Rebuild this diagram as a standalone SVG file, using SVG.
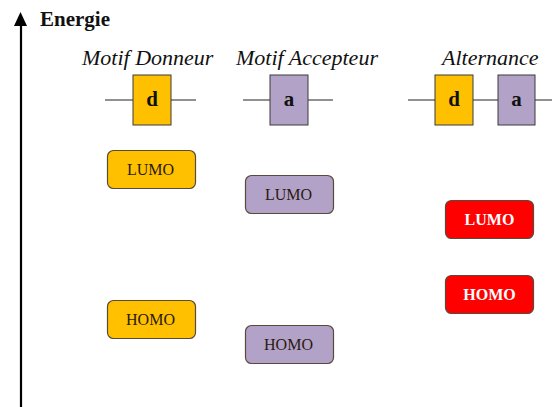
<svg xmlns="http://www.w3.org/2000/svg" width="552" height="407" viewBox="0 0 552 407">
<style>
.t{font-family:"Liberation Serif","Times New Roman",serif}
.h{font-size:22px;font-style:italic;fill:#111}
.m{stroke:#3a3a3a;stroke-width:1}
.lv{stroke:#5a4a3a;stroke-width:1.2}
.lt{font-size:16px;fill:#2a1a10;text-anchor:middle}
.lw{font-size:16px;fill:#fff;font-weight:bold;text-anchor:middle}
.bt{font-size:21px;font-weight:bold;fill:#111;text-anchor:middle}
.w{stroke:#222;stroke-width:1}
</style>
<rect width="552" height="407" fill="#fff"/>
<g id="axis">
<line x1="21" y1="24" x2="21" y2="407" stroke="#000" stroke-width="2.2"/>
<polygon points="20.5,12 14,26 27,26" fill="#000"/>
<text class="t" x="40" y="26" font-size="21" font-weight="bold" fill="#111">Energie</text>
</g>
<g id="connectors">
<line class="w" x1="105" y1="100" x2="133" y2="100"/>
<line class="w" x1="171" y1="100" x2="196" y2="100"/>
<line class="w" x1="243" y1="100" x2="270" y2="100"/>
<line class="w" x1="308" y1="100" x2="333" y2="100"/>
<line class="w" x1="408" y1="100" x2="435" y2="100"/>
<line class="w" x1="473" y1="100" x2="498" y2="100"/>
<line class="w" x1="535" y1="100" x2="552" y2="100"/>
</g>
<g id="motif-donneur">
<text class="t h" x="82" y="65">Motif Donneur</text>
<rect class="m" x="133" y="75" width="38" height="50" fill="#FFC000"/>
<text class="t bt" x="152" y="106">d</text>
</g>
<g id="motif-accepteur">
<text class="t h" x="236" y="65">Motif Accepteur</text>
<rect class="m" x="270" y="75" width="38" height="50" fill="#B3A2C7"/>
<text class="t bt" x="289" y="106">a</text>
</g>
<g id="alternance">
<text class="t h" x="442" y="65">Alternance</text>
<rect class="m" x="435" y="75" width="38" height="50" fill="#FFC000"/>
<text class="t bt" x="454" y="106">d</text>
<rect class="m" x="498" y="75" width="37" height="50" fill="#B3A2C7"/>
<text class="t bt" x="516.5" y="106">a</text>
</g>
<g id="lumo-d">
<rect class="lv" x="107.5" y="150.5" width="88" height="38" rx="6" fill="#FFC000"/>
<text class="t lt" x="150.5" y="174.5">LUMO</text>
</g>
<g id="homo-d">
<rect class="lv" x="107.5" y="300.5" width="88" height="38" rx="6" fill="#FFC000"/>
<text class="t lt" x="150.5" y="324.5">HOMO</text>
</g>
<g id="lumo-a">
<rect class="lv" x="245.5" y="175.5" width="88" height="38" rx="6" fill="#B3A2C7"/>
<text class="t lt" x="288.5" y="199.5">LUMO</text>
</g>
<g id="homo-a">
<rect class="lv" x="245.5" y="325.5" width="88" height="38" rx="6" fill="#B3A2C7"/>
<text class="t lt" x="288.5" y="349.5">HOMO</text>
</g>
<g id="lumo-alt">
<rect class="lv" x="445.5" y="200.5" width="88" height="38" rx="6" fill="#FF0000"/>
<text class="t lw" x="489.5" y="224.5">LUMO</text>
</g>
<g id="homo-alt">
<rect class="lv" x="445.5" y="275.5" width="88" height="38" rx="6" fill="#FF0000"/>
<text class="t lw" x="489.5" y="299.5">HOMO</text>
</g>
</svg>
